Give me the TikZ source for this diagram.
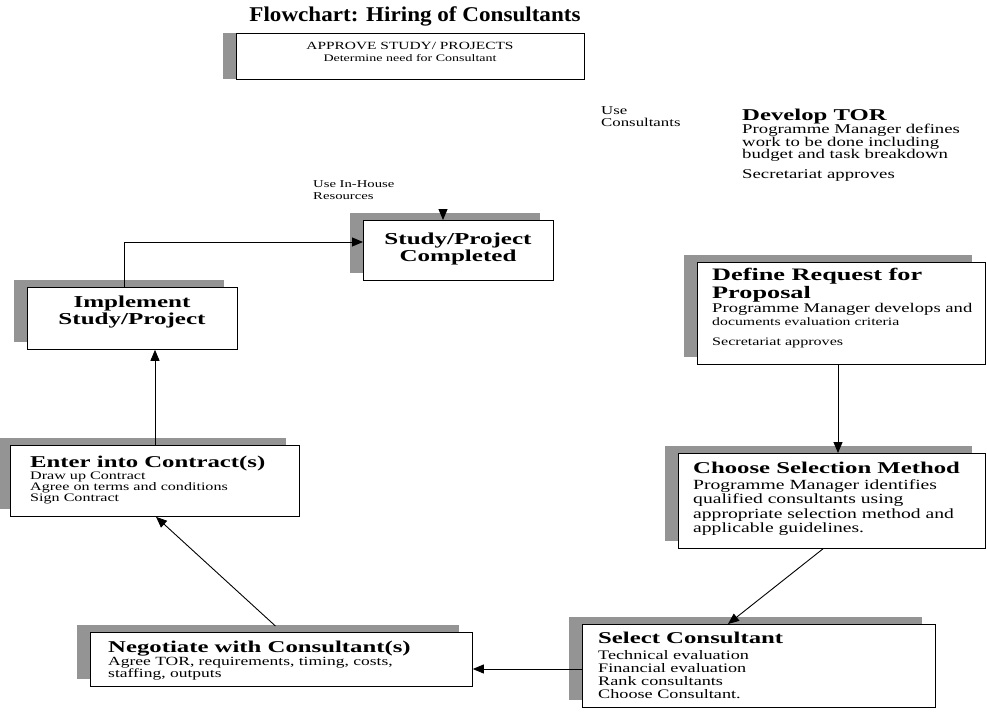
\documentclass[tikz,border=0pt]{standalone}
\usepackage{fontspec}
\setmainfont{Liberation Serif}
\newfontfamily\wreg{Liberation Serif}[FakeStretch=1.4]
\newfontfamily\wbold{Liberation Serif}[FakeStretch=1.5]
\newfontfamily\wtitle{Liberation Serif}[FakeStretch=1.1]
\usetikzlibrary{arrows.meta,shadows}
\begin{document}
\begin{tikzpicture}[x=1pt,y=-1pt,
 box/.style={draw=black, line width=0.8pt, fill=white, anchor=north west, inner sep=0pt,
   drop shadow={shadow xshift=-13pt, shadow yshift=#1, fill=black!42, opacity=1}},
 box/.default=7pt,
 hd/.style={font=\wbold\bfseries\fontsize{16.5}{18}\selectfont, inner sep=0pt, anchor=base west},
 hdm/.style={font=\wbold\bfseries\fontsize{#1}{17.5}\selectfont, inner sep=0pt, anchor=north west, align=left},
 bd/.style={inner sep=0pt, anchor=north west, align=left},
 arr/.style={draw=black, line width=0.9pt, -{Triangle[length=11pt,width=9pt]}}]

\useasboundingbox (0,0) rectangle (987,714);
\fill[white] (0,0) rectangle (987,714);

% title
\node[font=\wtitle\bfseries\fontsize{21}{24}\selectfont, inner sep=0pt] (title) at (415,16) {Flowchart: Hiring of Consultants};

% boxes
\node[box=0pt, minimum width=348pt, minimum height=46pt] (approve) at (236,33) {};
\node[box, minimum width=190pt, minimum height=60pt] (study) at (363,220) {};
\node[box, minimum width=210pt, minimum height=62pt] (impl) at (27,287) {};
\node[box, minimum width=288pt, minimum height=102pt] (define) at (697,262) {};
\node[box, minimum width=307pt, minimum height=95pt] (choose) at (678,453) {};
\node[box, minimum width=289pt, minimum height=71pt] (enter) at (10,445) {};
\node[box, minimum width=382pt, minimum height=54pt] (nego) at (90,632) {};
\node[box, minimum width=353pt, minimum height=83pt] (select) at (582,624) {};

% texts
\node[align=center, inner sep=0pt, font=\wreg\fontsize{11}{12.5}\selectfont] (approveT) at (410,52)
  {APPROVE STUDY/ PROJECTS\\{\fontsize{10}{12}\selectfont Determine need for Consultant}};

\node[bd, font=\wreg\fontsize{12}{12.5}\selectfont] (usec) at (601,106) {Use\\Consultants};

\node[hd] (torH) at (742,121) {Develop TOR};
\node[bd, font=\wreg\fontsize{13.4}{12.5}\selectfont] (torB) at (742,124)
  {Programme Manager defines\\work to be done including\\budget and task breakdown\\[7pt]Secretariat approves};

\node[bd, font=\wreg\fontsize{10.5}{12}\selectfont] (inh) at (313,180) {Use In-House\\Resources};

\node[align=center, inner sep=0pt, font=\wbold\bfseries\fontsize{16.7}{17.5}\selectfont] (studyT) at (458,249)
  {Study/Project\\Completed};

\node[align=center, inner sep=0pt, font=\wbold\bfseries\fontsize{16.7}{17.5}\selectfont] (implT) at (132,312)
  {Implement\\Study/Project};

\node[hdm=17.5] (defH) at (712,268) {Define Request for\\Proposal};
\node[bd, font=\wreg\fontsize{13.3}{13}\selectfont] (defB) at (712,303)
  {Programme Manager develops and\\{\fontsize{11.3}{13}\selectfont documents evaluation criteria}\\[7pt]{\fontsize{11.5}{13}\selectfont Secretariat approves}};

\node[hd] (chooseH) at (693,473) {Choose Selection Method};
\node[bd, font=\wreg\fontsize{14}{14.5}\selectfont] (chooseB) at (693,479)
  {Programme Manager identifies\\qualified consultants using\\appropriate selection method and\\applicable guidelines.};

\node[hd] (enterH) at (30,467) {Enter into Contract(s)};
\node[bd, font=\wreg\fontsize{11.5}{11}\selectfont] (enterB) at (30,472)
  {Draw up Contract\\Agree on terms and conditions\\Sign Contract};

\node[hd] (negoH) at (108,652) {Negotiate with Consultant(s)};
\node[bd, font=\wreg\fontsize{12.5}{12}\selectfont] (negoB) at (108,657.5)
  {Agree TOR, requirements, timing, costs,\\staffing, outputs};

\node[hd] (selectH) at (598,643) {Select Consultant};
\node[bd, font=\wreg\fontsize{13}{13}\selectfont] (selectB) at (598,650)
  {Technical evaluation\\Financial evaluation\\Rank consultants\\Choose Consultant.};

% connectors
\coordinate (k1) at (124,242);
\draw[arr] (impl.north -| k1) |- (study.west |- k1);
\coordinate (k2) at (443,209);
\draw[arr] (k2) -- (study.north -| k2);
\coordinate (k3) at (155,0);
\draw[arr] (enter.north -| k3) -- (impl.south -| k3);
\coordinate (k4) at (282,0);
\coordinate (k5) at (156,0);
\draw[arr, shorten <=9pt] (nego.north -| k4) -- (enter.south -| k5);
\coordinate (k6) at (0,669);
\draw[arr] (select.west |- k6) -- (nego.east |- k6);
\coordinate (k7) at (823,0);
\coordinate (k8) at (728,0);
\draw[arr] (choose.south -| k7) -- (select.north -| k8);
\coordinate (k9) at (838,0);
\draw[arr] (define.south -| k9) -- (choose.north -| k9);
\end{tikzpicture}
\end{document}
